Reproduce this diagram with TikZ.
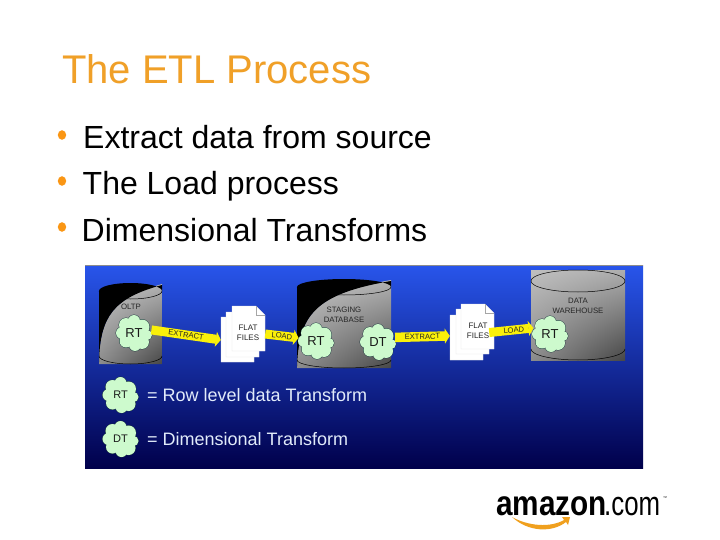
\documentclass[tikz,border=0pt]{standalone}
\usepackage{fontspec}
\usepackage{graphicx}
\setmainfont{Liberation Sans}
\usetikzlibrary{arrows.meta,calc,shadings}
\definecolor{titlec}{RGB}{240,160,40}
\definecolor{bulletc}{RGB}{250,150,20}
\definecolor{cloudc}{RGB}{205,250,205}
\definecolor{cloudd}{RGB}{25,55,60}
\definecolor{arrowc}{RGB}{250,240,10}
\definecolor{swoosh}{RGB}{240,160,30}
\definecolor{panelt}{RGB}{40,85,235}
\definecolor{panelb}{RGB}{0,0,75}
\definecolor{legc}{RGB}{225,235,250}
\tikzset{
  txt/.style={inner sep=0pt,anchor=base west},
  cloudn/.style={circle,inner sep=0pt,minimum size=35pt,text=black!90,font=\fontsize{#1}{14}\selectfont},
  stack/.style={inner sep=0pt,minimum width=44pt,minimum height=56pt},
  yarrow/.style={draw=arrowc,line width=#1,-{Triangle[width=15pt,length=5pt]}},
  arlab/.style={font=\fontsize{7.6}{8}\selectfont,text=black!85,inner sep=0pt},
  lab/.style={font=\fontsize{7.8}{9.4}\selectfont,text=black!85,align=center,inner sep=0pt},
  legend/.style={txt,font=\fontsize{18}{20}\selectfont,text=legc},
}
% cylinder with a black wedge at the upper left
\newcommand{\cylb}[6]{% x0 y0 x1 y1 ctrl1 ctrl2
  \begin{scope}
    \clip (#1,#4-2) .. controls #5 and #6 .. (#3,#2+1) -- (#3,#4) -- (#1,#4) -- cycle;
    \shade[upper left=black!22,upper right=black!30,lower left=black!45,lower right=black!72] (#1,#2) rectangle (#3,#4);
  \end{scope}
  \pgfmathsetmacro{\rx}{(#3-#1)/2}
  \fill[black] (#1,#4-2) -- (#1,#2+8) arc[start angle=180,end angle=360,x radius=\rx,y radius=8] -- (#3,#2+2) .. controls #6 and #5 .. (#1,#4-2) -- cycle;
  \draw[line width=.5pt,black] (#1,#2+8) arc[start angle=180,end angle=0,x radius=\rx,y radius=8];
  \draw[line width=.5pt,black] (#1,#4-8) arc[start angle=180,end angle=0,x radius=\rx,y radius=8];
}
\newcommand{\cylg}[4]{%
  \shade[upper left=black!25,upper right=black!32,lower left=black!45,lower right=black!72] (#1,#2) rectangle (#3,#4);
  \pgfmathsetmacro{\rx}{(#3-#1)/2}
  \draw[line width=.5pt,black] (#1,#2+11) arc[start angle=180,end angle=-180,x radius=\rx,y radius=11];
  \draw[line width=.5pt,black] (#1,#4-11) arc[start angle=180,end angle=0,x radius=\rx,y radius=11];
}
\newcommand{\sheet}[2]{%
  \fill[white,draw=black!12,line width=.3pt] (#1,#2) -- (#1+24,#2) -- (#1+33,#2+9) -- (#1+33,#2+45) -- (#1,#2+45) -- cycle;
  \draw[black!35,line width=.3pt] (#1+24,#2) -- (#1+24,#2+9) -- (#1+33,#2+9);
}
% lumpy cloud centred at (x,y)
\newcommand{\blob}[2]{%
  \begin{scope}[shift={(#1,#2)}]
    \foreach \ox/\oy/\rr in {0/-12/6,-8/-8/7,8/-6/7.5,13/2/5,8/9/7,1/12/6,-8/8/6.5,-12/0/6}{
      \draw[cloudd,line width=.8pt] (\ox,\oy) circle (\rr);
    }
    \foreach \ox/\oy/\rr in {0/-12/6,-8/-8/7,8/-6/7.5,13/2/5,8/9/7,1/12/6,-8/8/6.5,-12/0/6,0/0/11}{
      \fill[cloudc] (\ox,\oy) circle (\rr);
    }
  \end{scope}
}
\begin{document}
\begin{tikzpicture}[x=1pt,y=-1pt]
\useasboundingbox (0,0) rectangle (720,540);
\fill[white] (0,0) rectangle (720,540);
% heading and bullets
\node[txt,font=\fontsize{40}{44}\selectfont,text=titlec] (title) at (62,84) {The ETL Process};
\foreach \yy/\tx/\nm/\xx in {149/Extract data from source/b1/83,195/The Load process/b2/82.5,241/Dimensional Transforms/b3/81.5}{
  \node[txt,font=\fontsize{32}{34}\selectfont,text=black] (\nm) at (\xx,\yy) {\tx};
  \fill[bulletc] (62,\yy-14) ellipse (4.2 and 4.8);
}
% panel
\shade[top color=panelt,bottom color=panelb] (85,265) rectangle (643,468);
\draw[black!45,line width=.7pt] (85,265) -- (643,265);
% cylinders
\cylb{99}{283}{162}{364}{(100,316)}{(114,298)}
\cylb{297}{279}{391}{368}{(299,316)}{(314,294)}
\cylg{531}{270}{625}{360}
\node[lab] (oltp) at (131,307) {OLTP};
\node[lab] (stag) at (344,315) {STAGING\\DATABASE};
\node[lab] (dw) at (578,306) {DATA\\WAREHOUSE};
% file stacks
\sheet{221}{317}\sheet{226}{312}\sheet{232}{306}
\node[stack] (st1) at (243,334) {};
\node[lab,font=\fontsize{8}{10}\selectfont] (ff1) at (248,333) {FLAT\\FILES};
\sheet{450}{315}\sheet{456}{309}\sheet{461}{304}
\node[stack] (st2) at (472,332) {};
\node[lab,font=\fontsize{8}{10}\selectfont] (ff2) at (478,331) {FLAT\\FILES};
% clouds
\blob{134}{333}\node[cloudn=13] (rt1) at (134,333) {RT};
\blob{316}{341}\node[cloudn=13] (rt2) at (316,341) {RT};
\blob{378}{342}\node[cloudn=13] (dt) at (378,342) {DT};
\blob{550}{334}\node[cloudn=13] (rt3) at (550,334) {RT};
\blob{120.5}{395}\node[cloudn=11] (lrt) at (120.5,395) {RT};
\blob{120.5}{439}\node[cloudn=11] (ldt) at (120.5,439) {DT};
% yellow arrows
\draw[yarrow=9pt] (rt1.10) -- (st1.195) node[midway,sloped,arlab] {EXTRACT};
\draw[yarrow=9pt] (st1.east) -- (rt2.170) node[midway,sloped,arlab] {LOAD};
\draw[yarrow=9.5pt] (dt.15) -- (st2.190) node[midway,sloped,arlab] {EXTRACT};
\draw[yarrow=9pt,shorten <=-5pt] (st2.east) -- (rt3.160) node[midway,sloped,arlab] {LOAD};
% legend
\node[legend] (l1) at (147,401) {= Row level data Transform};
\node[legend] (l2) at (147,445) {= Dimensional Transform};
% logo
\node[txt,font=\fontsize{35}{36}\bfseries\selectfont,text=black] (az) at (496,515) {\scalebox{.85}[1]{amazon}};
\node[txt,font=\fontsize{34}{36}\selectfont,text=black] (com) at (604,515) {\scalebox{.76}[1]{.com}};
\node[txt,font=\fontsize{4}{4}\selectfont,text=black] (tm) at (663,499) {™};
\fill[swoosh] (512,517) .. controls (528,526) and (550,528) .. (564,520) -- (562,517) -- (570,517) -- (568,525) -- (566,522) .. controls (552,533) and (528,532) .. (512,517) -- cycle;
\end{tikzpicture}
\end{document}
